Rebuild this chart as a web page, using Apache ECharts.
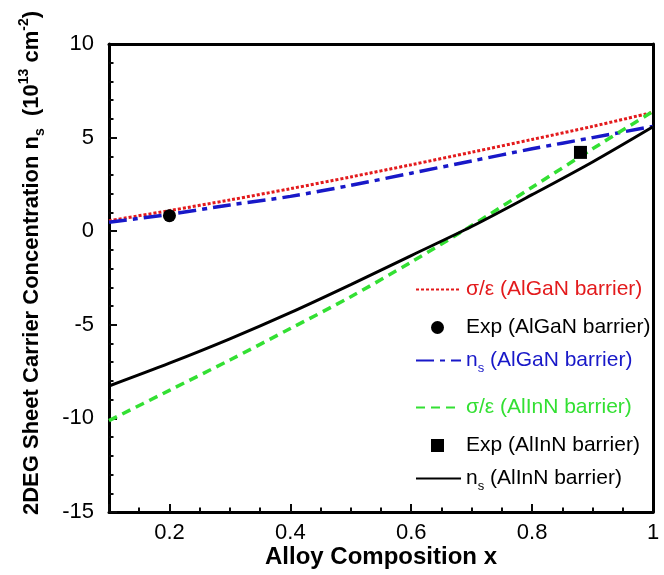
<!DOCTYPE html>
<html>
<head>
<meta charset="utf-8">
<script src="https://cdn.jsdelivr.net/npm/echarts@6/dist/echarts.min.js"></script>
<style>
html,body{margin:0;padding:0;background:#fff;overflow:hidden}
.layer{position:absolute;left:0;top:0;width:664px;height:575px;}
</style>
</head>
<body>
<div class="layer" id="axes"></div>
<div class="layer" id="plot"></div>
<script>
// ---- data ----
const xValues = [0.1, 0.2, 0.3, 0.4, 0.5, 0.6, 0.7, 0.8, 0.9, 1.0];
const sigmaAlGaN = [0.56, 1.1, 1.67, 2.27, 2.9, 3.55, 4.22, 4.9, 5.6, 6.35];
const nsAlGaN = [0.48, 0.9, 1.4, 1.86, 2.45, 3.1, 3.75, 4.4, 5.0, 5.6];
const sigmaAlInN = [-10.12, -8.5, -6.88, -5.2, -3.5, -1.65, 0.3, 2.35, 4.4, 6.4];
const nsAlInN = [-8.27, -7.05, -5.75, -4.35, -2.85, -1.3, 0.25, 1.95, 3.7, 5.58];
const expAlGaN = [[0.2, 0.83]];
const expAlInN = [[0.88, 4.21]];
const yTicks = { min: -15, max: 10, step: 5 };
const xRange = { min: 0.1, max: 1.0 };
const seriesNames = [
  'σ/ε (AlGaN barrier)', 'Exp (AlGaN barrier)', 'ns (AlGaN barrier)',
  'σ/ε (AlInN barrier)', 'Exp (AlInN barrier)', 'ns (AlInN barrier)'
];

const pair = (xs, ys) => xs.map((x, i) => [x, ys[i]]);
const FONT = '"Liberation Sans", Arial, sans-serif';
const RED = '#e31a1c', BLUE = '#1818c8', GREEN = '#33e033', BLACK = '#000';
const GRID = { left: 109, right: 11, top: 44, bottom: 63 };

// ---------- layer 1: axes, ticks and tick labels ----------
echarts.init(document.getElementById('axes')).setOption({
  animation: false,
  grid: GRID,
  xAxis: [{
    type: 'value', min: xRange.min, max: xRange.max,
    axisLine: { show: true, onZero: false, lineStyle: { color: '#000', width: 3 } },
    axisTick: { show: true, inside: true, length: 8, lineStyle: { color: '#0a0a0a', width: 2 } },
    minorTick: { show: true, splitNumber: 4, length: 4.5, lineStyle: { color: '#0a0a0a', width: 2 } },
    splitLine: { show: false },
    axisLabel: { color: '#000', fontSize: 22, fontFamily: FONT, margin: 10, showMinLabel: false }
  }],
  yAxis: [{
    type: 'value', min: yTicks.min, max: yTicks.max, interval: yTicks.step,
    axisLine: { show: true, onZero: false, lineStyle: { color: '#000', width: 3 } },
    axisTick: { show: true, inside: true, length: 8, lineStyle: { color: '#0a0a0a', width: 2 } },
    minorTick: { show: true, splitNumber: 5, length: 4.5, lineStyle: { color: '#0a0a0a', width: 2 } },
    splitLine: { show: false },
    axisLabel: { color: '#000', fontSize: 22, fontFamily: FONT, margin: 15 }
  }]
});

// ---------- layer 2: frame, names, series, legend ----------
function legendItem(name, top, color, opts) {
  opts = opts || {};
  const rich = {
    n: { fontSize: 21, color: color, fontFamily: FONT, lineHeight: 28, verticalAlign: 'middle' },
    s: { fontSize: 13, color: color, fontFamily: FONT, lineHeight: 13, verticalAlign: 'bottom' },
    t: { fontSize: 21, color: color, fontFamily: FONT, lineHeight: 28, verticalAlign: 'middle' }
  };
  const lg = {
    show: true,
    data: [{ name: name }],
    left: opts.left || 415,
    top: top,
    orient: 'vertical',
    itemWidth: opts.itemWidth || 45,
    itemHeight: 13,
    selectedMode: false,
    padding: 0,
    formatter: function (n) {
      if (n.indexOf('ns ') === 0) return '{n|n}{s|s}{t| ' + n.slice(3) + '}';
      return '{t|' + n + '}';
    },
    textStyle: {
      color: color, fontSize: 21, fontFamily: FONT,
      padding: opts.textPad ? [0, 0, 0, opts.textPad] : 0,
      rich: rich
    }
  };
  if (opts.hideSymbol) lg.itemStyle = { opacity: 0, borderWidth: 0 };
  return lg;
}
function frameAxis(extra) {
  return Object.assign({
    type: 'value',
    axisLine: { show: true, onZero: false, lineStyle: { color: '#000', width: 3 } },
    axisTick: { show: false }, minorTick: { show: false },
    axisLabel: { show: false }, splitLine: { show: false }
  }, extra);
}

echarts.init(document.getElementById('plot')).setOption({
  animation: false,
  textStyle: { fontFamily: FONT },
  grid: GRID,
  legend: [
    legendItem(seriesNames[0], 279, RED, { hideSymbol: true }),
    legendItem(seriesNames[1], 317, BLACK, { left: 431, itemWidth: 13, textPad: 17 }),
    legendItem(seriesNames[2], 350, BLUE, { hideSymbol: true }),
    legendItem(seriesNames[3], 397, GREEN, { hideSymbol: true }),
    legendItem(seriesNames[4], 435, BLACK, { left: 431, itemWidth: 13, textPad: 17 }),
    legendItem(seriesNames[5], 468, BLACK, { hideSymbol: true })
  ],
  xAxis: [
    frameAxis({
      min: xRange.min, max: xRange.max, position: 'bottom',
      axisLine: { show: false, onZero: false },
      name: 'Alloy Composition x', nameLocation: 'middle', nameGap: 33,
      nameTextStyle: { color: '#000', fontSize: 24, fontWeight: 'bold', fontFamily: FONT }
    }),
    frameAxis({ min: xRange.min, max: xRange.max, position: 'top' })
  ],
  yAxis: [
    frameAxis({
      min: yTicks.min, max: yTicks.max, interval: yTicks.step, position: 'left',
      axisLine: { show: false, onZero: false },
      name: '{b|2DEG Sheet Carrier Concentration n}{bs|s}{b|  (10}{bp|13}{b| cm}{bp|-2}{b|)}',
      nameLocation: 'middle', nameGap: 62,
      nameTextStyle: {
        color: '#000', fontSize: 22, fontWeight: 'bold', fontFamily: FONT,
        padding: [0, 0, 0, 30],
        rich: {
          b: { fontSize: 22, fontWeight: 'bold', color: '#000', fontFamily: FONT, lineHeight: 30, verticalAlign: 'middle' },
          bs: { fontSize: 14, fontWeight: 'bold', color: '#000', fontFamily: FONT, lineHeight: 14, verticalAlign: 'bottom' },
          bp: { fontSize: 14, fontWeight: 'bold', color: '#000', fontFamily: FONT, lineHeight: 14, verticalAlign: 'top' }
        }
      }
    }),
    frameAxis({ min: yTicks.min, max: yTicks.max, interval: yTicks.step, position: 'right' })
  ],
  series: [
    {
      name: seriesNames[0], type: 'line', data: pair(xValues, sigmaAlGaN),
      smooth: 0.3, symbol: 'none', z: 3,
      lineStyle: { color: RED, width: 3, type: [3, 2] }, itemStyle: { color: RED }
    },
    {
      name: seriesNames[2], type: 'line', data: pair(xValues, nsAlGaN),
      smooth: 0.3, symbol: 'none', z: 3,
      lineStyle: { color: BLUE, width: 3.5, type: [18, 6, 5, 6] }, itemStyle: { color: BLUE }
    },
    {
      name: seriesNames[3], type: 'line', data: pair(xValues, sigmaAlInN),
      smooth: 0.3, symbol: 'none', z: 3,
      lineStyle: { color: GREEN, width: 3.5, type: [9, 6] }, itemStyle: { color: GREEN }
    },
    {
      name: seriesNames[5], type: 'line', data: pair(xValues, nsAlInN),
      smooth: 0.3, symbol: 'none', z: 3,
      lineStyle: { color: BLACK, width: 3, type: 'solid' }, itemStyle: { color: BLACK }
    },
    {
      name: seriesNames[1], type: 'scatter', data: expAlGaN,
      symbol: 'circle', symbolSize: 13, z: 5, itemStyle: { color: BLACK, opacity: 1 }
    },
    {
      name: seriesNames[4], type: 'scatter', data: expAlInN,
      symbol: 'rect', symbolSize: 13, z: 5, itemStyle: { color: BLACK, opacity: 1 }
    }
  ]
});
</script>
</body>
</html>
